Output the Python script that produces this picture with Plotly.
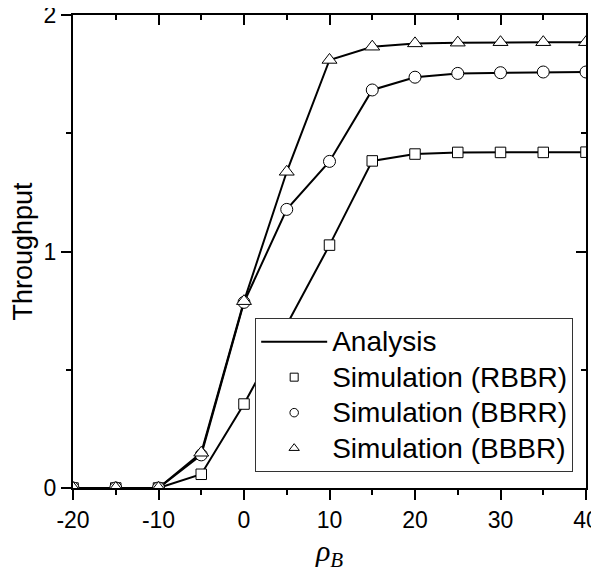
import plotly.graph_objects as go

rho = [-20, -15, -10, -5, 0, 5, 10, 15, 20, 25, 30, 35, 40]
rbbr = [0, 0, 0, 0.058, 0.355, 0.69, 1.027, 1.383, 1.412, 1.419, 1.419, 1.419, 1.42]
bbrr = [0, 0, 0, 0.14, 0.785, 1.178, 1.381, 1.683, 1.737, 1.753, 1.756, 1.759, 1.759]
bbbr = [0, 0, 0, 0.149, 0.79, 1.337, 1.81, 1.866, 1.88, 1.883, 1.885, 1.885, 1.885]

x_ticks = [-20, -10, 0, 10, 20, 30, 40]
y_ticks = [0, 1, 2]

LINE_W = 2
fig = go.Figure()


def big(t):
    return '<span style="font-size:28px">' + t + '</span>'


series = [("Simulation (RBBR)", rbbr, "square", 10.5, 8),
          ("Simulation (BBRR)", bbrr, "circle", 12, 8.5),
          ("Simulation (BBBR)", bbbr, "triangle-up", 13, 9)]

# analysis lines
for i, (name, vals, sym, sz, lsz) in enumerate(series):
    fig.add_trace(go.Scatter(x=rho, y=vals, mode="lines",
                             line=dict(color="black", width=LINE_W),
                             name=big("Analysis"), showlegend=(i == 0),
                             legendgroup="analysis"))
# simulation markers
for name, vals, sym, sz, lsz in series:
    fig.add_trace(go.Scatter(x=rho, y=vals, mode="markers",
                             marker=dict(symbol=sym, size=sz, color="white",
                                         line=dict(color="black", width=1)),
                             name=name, showlegend=False, legendgroup=name))
    fig.add_trace(go.Scatter(x=[None], y=[None], mode="markers",
                             marker=dict(symbol=sym, size=lsz, color="white",
                                         line=dict(color="black", width=1)),
                             name=big(name), showlegend=True, legendgroup=name))

axis_font = dict(family="Liberation Sans, Arial, sans-serif", size=23, color="black")

fig.update_layout(
    width=591, height=575,
    margin=dict(l=65, r=13, t=7, b=95),
    plot_bgcolor="white", paper_bgcolor="white",
    font=dict(family="Liberation Sans, Arial, sans-serif", color="black"),
    xaxis=dict(range=[-20, 40], tickvals=x_ticks, ticktext=[str(v) for v in x_ticks],
               ticks="outside", ticklen=10, tickwidth=2, tickcolor="black",
               minor=dict(dtick=5, ticks="outside", ticklen=5, tickwidth=2, tickcolor="black"),
               showline=True, linewidth=2, linecolor="black", showgrid=False, zeroline=False,
               tickfont=axis_font, automargin=False, ticklabeloverflow="allow",
               title=dict(text="<i>ρ<sub>B</sub></i>",
                          font=dict(family="Liberation Serif, Times New Roman, serif", size=30, color="black"),
                          standoff=8)),
    yaxis=dict(range=[0, 2], tickvals=y_ticks, ticktext=[str(v) for v in y_ticks],
               ticks="outside", ticklen=10, tickwidth=2, tickcolor="black",
               minor=dict(dtick=0.5, ticks="outside", ticklen=5, tickwidth=2, tickcolor="black"),
               showline=True, linewidth=2, linecolor="black", showgrid=False, zeroline=False,
               tickfont=axis_font, automargin=False, ticklabeloverflow="allow",
               title=dict(text="Throughput",
                          font=dict(family="Liberation Sans, Arial, sans-serif", size=27, color="black"),
                          standoff=8)),
    xaxis2=dict(overlaying="x", side="top", matches="x", range=[-20, 40], tickvals=x_ticks,
                ticks="inside", ticklen=10, tickwidth=2, tickcolor="black",
                minor=dict(dtick=5, ticks="inside", ticklen=5, tickwidth=2, tickcolor="black"),
                showticklabels=False, showline=True, linewidth=2, linecolor="black",
                showgrid=False, zeroline=False, automargin=False),
    yaxis2=dict(overlaying="y", side="right", matches="y", range=[0, 2], tickvals=y_ticks,
                ticks="inside", ticklen=10, tickwidth=2, tickcolor="black",
                minor=dict(dtick=0.5, ticks="inside", ticklen=5, tickwidth=2, tickcolor="black"),
                showticklabels=False, showline=True, linewidth=2, linecolor="black",
                showgrid=False, zeroline=False, automargin=False),
    legend=dict(x=0.975, y=0.034, xanchor="right", yanchor="bottom",
                bgcolor="white", bordercolor="#333", borderwidth=1,
                font=dict(family="Liberation Sans, Arial, sans-serif", size=25, color="black"),
                itemwidth=66, tracegroupgap=0),
    showlegend=True,
)
# dummy trace to activate secondary axes
fig.add_trace(go.Scatter(x=[None], y=[None], xaxis="x2", yaxis="y2", showlegend=False, hoverinfo="skip"))

fig.write_html("out.html")
